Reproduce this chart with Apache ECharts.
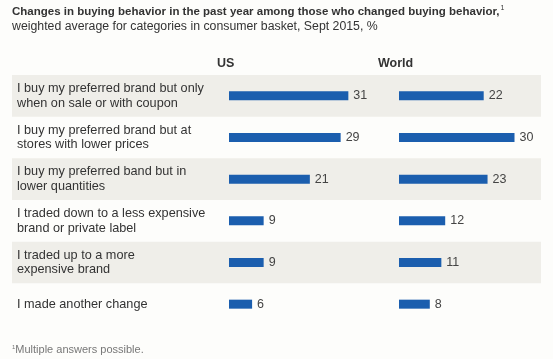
<!DOCTYPE html>
<html><head><meta charset="utf-8">
<script src="https://cdn.jsdelivr.net/npm/echarts@6/dist/echarts.min.js"></script>
<style>html,body{margin:0;padding:0;background:#fdfdfb}#c{width:553px;height:359px}</style>
</head><body><div id="c"></div>
<script>
const categories = [
  "I buy my preferred brand but only\nwhen on sale or with coupon",
  "I buy my preferred brand but at\nstores with lower prices",
  "I buy my preferred band but in\nlower quantities",
  "I traded down to a less expensive\nbrand or private label",
  "I traded up to a more\nexpensive brand",
  "I made another change"
];
const usValues = [31, 29, 21, 9, 9, 6];
const worldValues = [22, 30, 23, 12, 11, 8];
const columnNames = ["US", "World"];

const font = "Liberation Sans, Arial, Helvetica, sans-serif";
const chart = echarts.init(document.getElementById('c'), null, {renderer: 'canvas'});
const gTop = 75, gHeight = 250;
const barColor = '#1b5eae';
const labelStyle = {show: true, position: 'right', distance: 5, color: '#444', fontSize: 12.5, fontFamily: font};

chart.setOption({
  backgroundColor: '#fdfdfb',
  animation: false,
  textStyle: {fontFamily: font},
  title: [
    {left: 12, top: 5, padding: 0, text: '{b|Changes in buying behavior in the past year among those who changed buying behavior,}{s|1}\n{n|weighted average for categories in consumer basket, Sept 2015, %}',
     textStyle: {fontWeight: 'normal', rich: {
       b: {fontWeight: 'bold', fontSize: 11.5, color: '#333', fontFamily: font, lineHeight: 14.5},
       s: {fontSize: 7, fontWeight: 'normal', color: '#333', fontFamily: font, verticalAlign: 'top', lineHeight: 14.5, padding: [0,0,6,1]},
       n: {fontSize: 12.3, fontWeight: 'normal', color: '#333', fontFamily: font, lineHeight: 14.5}
     }}},
    {left: 217, top: 57, padding: 0, text: columnNames[0], textStyle: {fontWeight: 'bold', fontSize: 12.5, color: '#333', fontFamily: font}},
    {left: 378, top: 57, padding: 0, text: columnNames[1], textStyle: {fontWeight: 'bold', fontSize: 12.5, color: '#333', fontFamily: font}},
    {left: 12, top: 344, padding: 0, text: '{s|1}{n|Multiple answers possible.}',
     textStyle: {fontWeight: 'normal', rich: {
       s: {fontSize: 6, fontWeight: 'normal', color: '#777', fontFamily: font, verticalAlign: 'top', padding: [0,0,5,0]},
       n: {fontSize: 11, fontWeight: 'normal', color: '#777', fontFamily: font}
     }}}
  ],
  grid: [
    {left: 12, width: 529, top: gTop, height: gHeight},
    {left: 229, width: 154, top: gTop, height: gHeight},
    {left: 399, width: 154, top: gTop, height: gHeight}
  ],
  xAxis: [
    {gridIndex: 0, type: 'value', min: 0, max: 1, show: false},
    {gridIndex: 1, type: 'value', min: 0, max: 40, show: false},
    {gridIndex: 2, type: 'value', min: 0, max: 40, show: false}
  ],
  yAxis: [
    {gridIndex: 0, type: 'category', data: categories, inverse: true,
     axisLine: {show: false}, axisTick: {show: false}, splitLine: {show: false},
     splitArea: {show: true, areaStyle: {color: ['#efeee9', 'rgba(0,0,0,0)']}},
     axisLabel: {inside: true, margin: 5, color: '#333', fontSize: 12.7, lineHeight: 14.5, fontFamily: font, align: 'left'}},
    {gridIndex: 1, type: 'category', data: categories, inverse: true, show: false},
    {gridIndex: 2, type: 'category', data: categories, inverse: true, show: false}
  ],
  series: [
    {type: 'bar', xAxisIndex: 1, yAxisIndex: 1, data: usValues, barWidth: 9,
     itemStyle: {color: barColor}, label: labelStyle},
    {type: 'bar', xAxisIndex: 2, yAxisIndex: 2, data: worldValues, barWidth: 9,
     itemStyle: {color: barColor}, label: labelStyle}
  ]
});
</script></body></html>
